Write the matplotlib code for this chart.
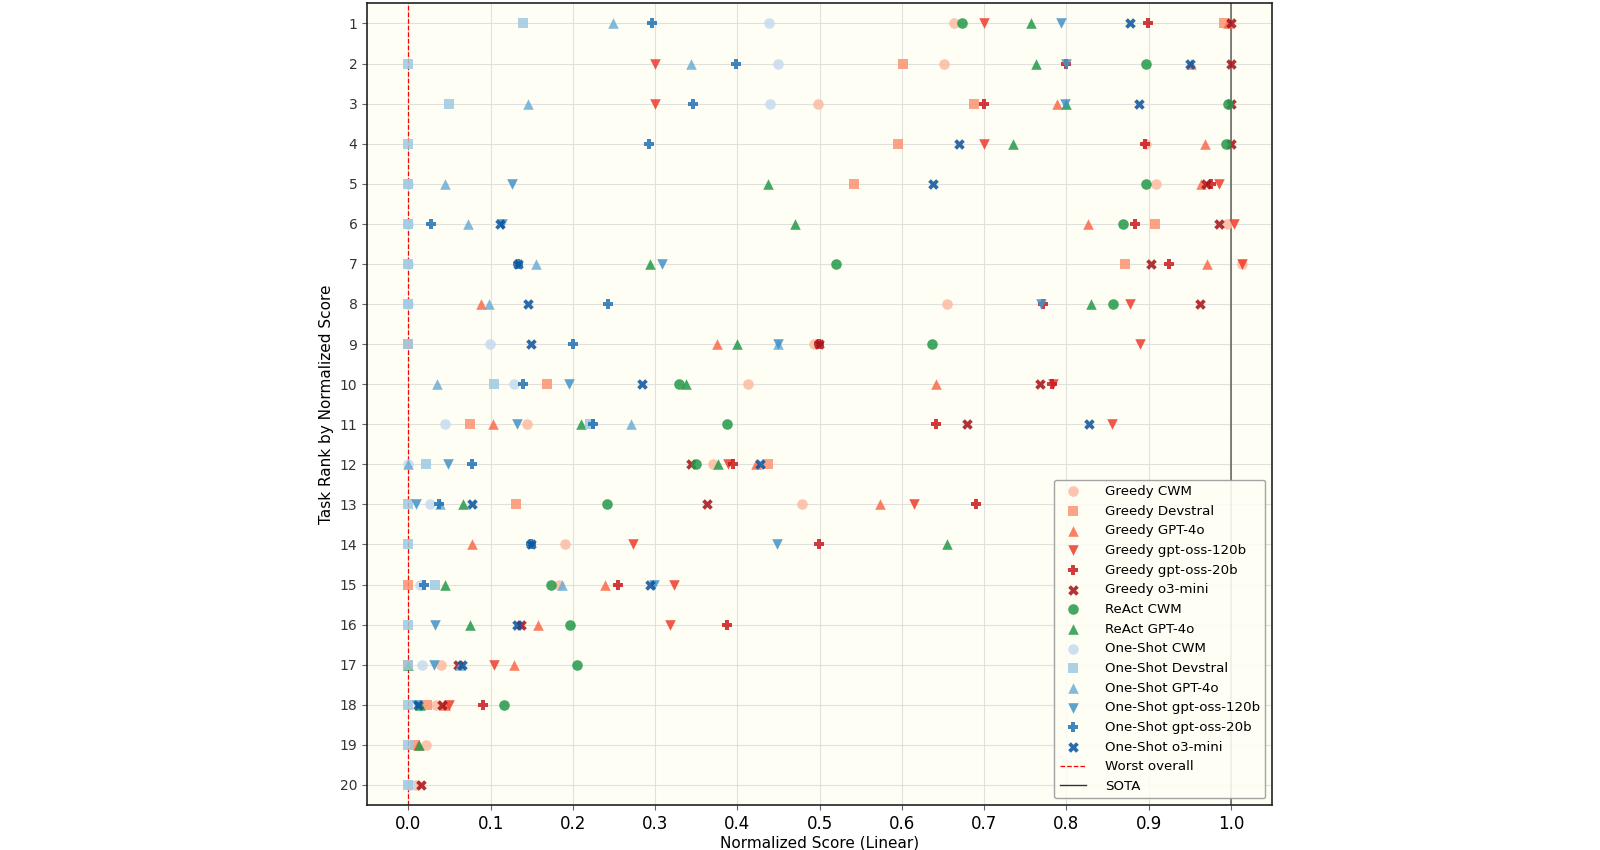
import numpy as np
import matplotlib
matplotlib.use("Agg")
import matplotlib.pyplot as plt
from matplotlib.lines import Line2D

nan = np.nan
ranks = list(range(1, 21))

series_names = [
    "Greedy CWM", "Greedy Devstral", "Greedy GPT-4o", "Greedy gpt-oss-120b",
    "Greedy gpt-oss-20b", "Greedy o3-mini", "ReAct CWM", "ReAct GPT-4o",
    "One-Shot CWM", "One-Shot Devstral", "One-Shot GPT-4o",
    "One-Shot gpt-oss-120b", "One-Shot gpt-oss-20b", "One-Shot o3-mini",
]
series_colors = [
    "#fcbba1", "#fc9272", "#fb6a4a", "#ef3b2c", "#cb181d", "#a50f15",
    "#23994a", "#23994a",
    "#c6dbef", "#9ecae1", "#6baed6", "#4292c6", "#2171b5", "#08519c",
]
series_markers = ["o", "s", "^", "v", "P", "X", "o", "^", "o", "s", "^", "v", "P", "X"]

# values per rank 1..20
greedy_cwm = [0.663, 0.651, 0.498, 0.897, 0.909, 0.995, 1.013, 0.655, 0.493, 0.413,
              0.144, 0.370, 0.478, 0.191, 0.183, nan, 0.040, 0.034, 0.021, 0.009]
greedy_devstral = [0.992, 0.602, 0.688, 0.595, 0.542, 0.908, 0.871, nan, 0.0, 0.168,
                   0.075, 0.437, 0.131, nan, 0.0, nan, 0.0, 0.023, 0.008, nan]
greedy_gpt4o = [0.996, 0.951, 0.789, 0.968, 0.964, 0.826, 0.971, 0.088, 0.375, 0.642,
                0.103, 0.423, 0.574, 0.077, 0.239, 0.158, 0.129, 0.045, 0.012, nan]
greedy_oss120 = [0.700, 0.300, 0.300, 0.700, 0.985, 1.004, 1.013, 0.877, 0.889, 0.784,
                 0.855, 0.389, 0.615, 0.273, 0.323, 0.318, 0.104, 0.049, nan, nan]
greedy_oss20 = [0.899, 0.799, 0.700, 0.895, 0.976, 0.883, 0.925, 0.772, 0.499, 0.782,
                0.641, 0.395, 0.690, 0.499, 0.255, 0.387, nan, 0.091, nan, nan]
greedy_o3mini = [1.0, 1.0, 1.0, 1.0, 0.970, 0.985, 0.903, 0.962, 0.499, 0.768,
                 0.679, 0.344, 0.363, nan, nan, 0.137, 0.060, 0.041, nan, 0.016]
react_cwm = [0.673, 0.897, 0.996, 0.994, 0.897, 0.869, 0.520, 0.857, 0.637, 0.329,
             0.387, 0.350, 0.241, nan, 0.173, 0.197, 0.205, 0.116, nan, nan]
react_gpt4o = [0.757, 0.763, 0.800, 0.735, 0.437, 0.470, 0.294, 0.830, 0.400, 0.338,
               0.210, 0.376, 0.067, 0.655, 0.044, 0.075, 0.0, 0.014, 0.013, nan]
oneshot_cwm = [0.439, 0.449, 0.440, nan, 0.0, 0.0, 0.0, 0.0, 0.099, 0.129,
               0.044, 0.0, 0.026, nan, 0.014, nan, 0.017, nan, nan, 0.002]
oneshot_devstral = [0.140, 0.0, 0.050, 0.0, 0.0, 0.0, 0.0, 0.0, 0.0, 0.104,
                    0.221, 0.022, 0.0, 0.0, 0.033, 0.0, 0.0, 0.0, 0.0, 0.0]
oneshot_gpt4o = [0.249, 0.344, 0.145, nan, 0.045, 0.072, 0.155, 0.098, 0.449, 0.035,
                 0.271, 0.0, 0.039, nan, 0.187, nan, 0.063, nan, nan, nan]
oneshot_oss120 = [0.794, 0.800, 0.798, nan, 0.126, 0.114, 0.309, 0.769, 0.449, 0.195,
                  0.132, 0.048, 0.009, 0.448, 0.299, 0.033, 0.031, 0.011, nan, nan]
oneshot_oss20 = [0.296, 0.398, 0.346, 0.293, nan, 0.027, 0.133, 0.243, 0.200, 0.139,
                 0.225, 0.077, 0.037, 0.149, 0.019, nan, nan, nan, nan, nan]
oneshot_o3mini = [0.877, 0.950, 0.888, 0.669, 0.638, 0.111, 0.133, 0.145, 0.149, 0.284,
                  0.827, 0.428, 0.078, 0.149, 0.294, 0.132, 0.065, 0.012, nan, nan]

series_values = [greedy_cwm, greedy_devstral, greedy_gpt4o, greedy_oss120, greedy_oss20,
                 greedy_o3mini, react_cwm, react_gpt4o, oneshot_cwm, oneshot_devstral,
                 oneshot_gpt4o, oneshot_oss120, oneshot_oss20, oneshot_o3mini]

worst_overall = 0.0
sota = 1.0

fig = plt.figure(figsize=(16, 8.5), dpi=100)
ax = fig.add_axes([0.2295, 0.053, 0.5655, 0.943])
ax.set_facecolor("#fefef5")

ax.grid(True, color="#e0e0dc", linewidth=0.8, zorder=0)
ax.set_axisbelow(True)

handles = []
for name, vals, col, mk in zip(series_names, series_values, series_colors, series_markers):
    h = ax.scatter(vals, ranks, s=58, marker=mk, color=col, alpha=0.85,
                   linewidths=0, zorder=3, label=name)
    handles.append(h)

ax.axvline(worst_overall, color="red", linestyle="--", linewidth=0.9, zorder=2)
ax.axvline(sota, color="#555555", linestyle="-", linewidth=1.3, alpha=0.8, zorder=2)

handles.append(Line2D([0], [0], color="red", linestyle="--", linewidth=0.9, label="Worst overall"))
handles.append(Line2D([0], [0], color="#333333", linestyle="-", linewidth=1.0, label="SOTA"))

ax.set_xlim(-0.05, 1.05)
ax.set_ylim(20.5, 0.5)
ax.set_yticks(ranks)
ax.set_yticklabels([str(r) for r in ranks], fontsize=10, color="#333333")
xt = np.round(np.arange(0, 1.01, 0.1), 1)
ax.set_xticks(xt)
ax.set_xticklabels([f"{v:.1f}" for v in xt], fontsize=12)
ax.tick_params(axis="both", length=3.5, width=0.8, color="#666666")
ax.set_xlabel("Normalized Score (Linear)", fontsize=11, labelpad=2)
ax.set_ylabel("Task Rank by Normalized Score", fontsize=11)

for sp in ax.spines.values():
    sp.set_color("#222222")
    sp.set_linewidth(1.2)

leg = ax.legend(handles=handles, loc="lower right", fontsize=9.6, frameon=True,
                framealpha=0.9, edgecolor="#999999", fancybox=True,
                handletextpad=1.4, labelspacing=0.5)
leg.get_frame().set_facecolor("#fefef5")

fig.savefig("out.png", dpi=100)
